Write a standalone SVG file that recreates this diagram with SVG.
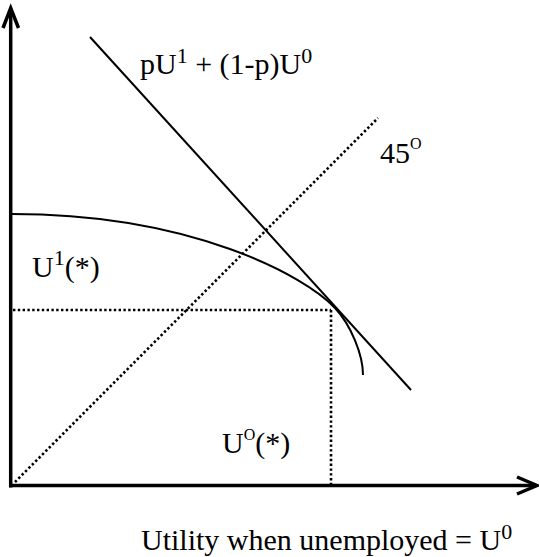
<svg xmlns="http://www.w3.org/2000/svg" width="539" height="557" viewBox="0 0 539 557">
<style>
.t{font-family:"Liberation Serif","Times New Roman",serif;font-size:30px;fill:#000}
.sup{font-size:22px}
.supo{font-size:16px}
.axis{stroke:#000;stroke-width:3.5;fill:none}
.dot{stroke:#000;stroke-width:2.6;stroke-dasharray:2.4 2.4;fill:none}
.ln{stroke:#000;stroke-width:2;fill:none}
</style>
<rect width="539" height="557" fill="#fff"/>
<g id="axes">
<line class="axis" x1="10.7" y1="487.5" x2="10.7" y2="9"/>
<polyline class="axis" points="3,28 10.7,8 18.5,28" stroke-linejoin="miter"/>
<line class="axis" x1="9" y1="485.5" x2="536" y2="485.5"/>
<polyline class="axis" points="517,477 537,485.5 517,494"/>
</g>
<g id="guides">
<line class="dot" x1="15" y1="482" x2="378" y2="118"/>
<line class="dot" x1="13" y1="310" x2="331" y2="310"/>
<line class="dot" x1="331" y1="310" x2="331" y2="484"/>
</g>
<g id="curves">
<line class="ln" x1="90" y1="37" x2="411" y2="390"/>
<path class="ln" stroke-width="2.4" d="M12,214 C192,214 305.4,276 335,308 C351,325 363,355 363,375"/>
</g>
<g id="labels">
<text class="t" x="140" y="74">pU<tspan class="sup" dy="-11">1</tspan><tspan dy="11"> + (1-p)U</tspan><tspan class="sup" dy="-11">0</tspan></text>
<text class="t" x="380" y="163">45<tspan class="supo" dy="-14">O</tspan></text>
<text class="t" x="32" y="277">U<tspan class="sup" dy="-12">1</tspan><tspan dy="12">(*)</tspan></text>
<text class="t" x="222" y="453">U<tspan class="supo" dy="-13">O</tspan><tspan dy="13">(*)</tspan></text>
<text class="t" x="141" y="550">Utility when unemployed = U<tspan class="sup" dy="-11">0</tspan></text>
</g>
</svg>
